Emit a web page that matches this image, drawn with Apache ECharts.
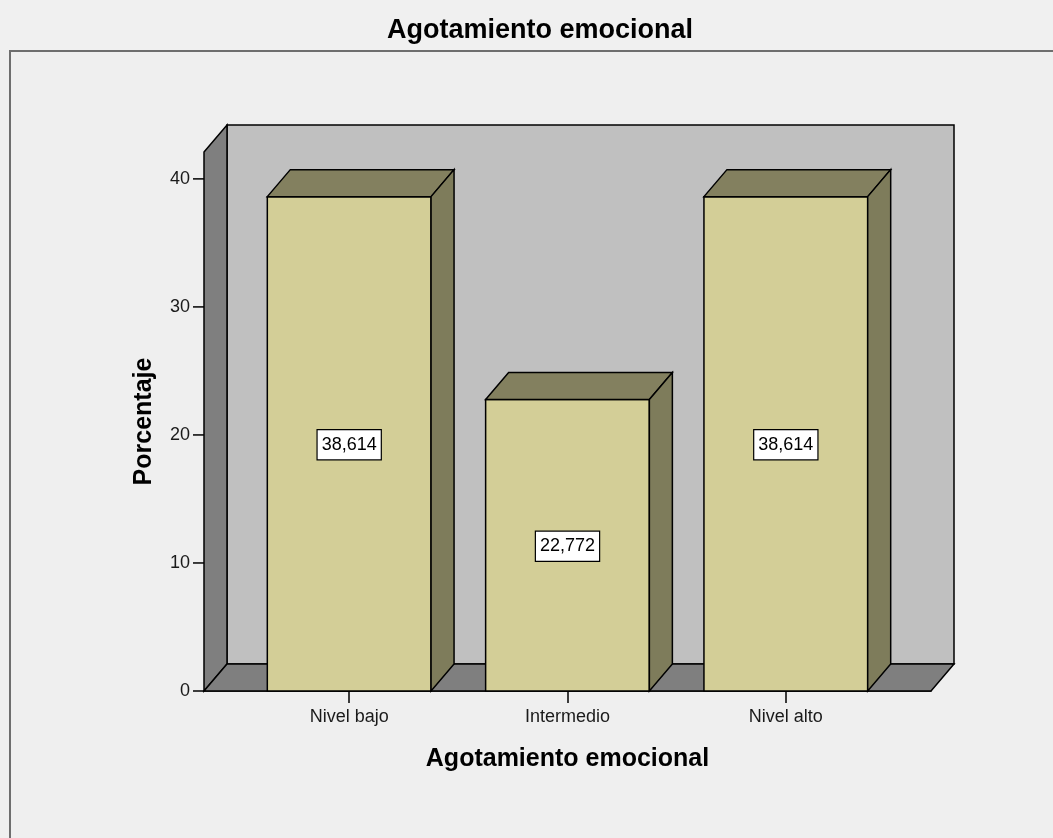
<!DOCTYPE html>
<html>
<head>
<meta charset="utf-8">
<script src="https://cdn.jsdelivr.net/npm/echarts@6/dist/echarts.min.js"></script>
<style>
  html, body { margin: 0; padding: 0; background: #f0f0f0; }
  #chart { width: 1053px; height: 838px; }
</style>
</head>
<body>
<div id="chart"></div>
<script>
// Agotamiento emocional: porcentaje por nivel
const categories = ['Nivel bajo', 'Intermedio', 'Nivel alto'];
const percentages = [38.614, 22.772, 38.614];
const yTickValues = [0, 10, 20, 30, 40];
const xTickValues = [0, 1, 2];

// axis extents (category positions are 0, 1, 2 on a value axis)
const X_MIN = -0.665, X_MAX = 2.665;
const Y_MIN = 0, Y_MAX = 42.1;
const BAR_HALF = 0.375;            // half bar width in category units
const DEPTH_X = 23, DEPTH_Y = -27; // oblique 3D depth offset (px)
const Y_TICK_LEN = 11;
const FONT = '"Liberation Sans", Arial, Helvetica, sans-serif';

const fmt = v => v.toFixed(3).replace('.', ',');

function poly(points, fill) {
  return {
    type: 'polygon',
    shape: { points: points },
    style: { fill: fill, stroke: '#000', lineWidth: 1.5, lineJoin: 'miter' }
  };
}

// back wall, left wall, floor of the 3D box and the value-axis tick marks
function renderBox(params, api) {
  const fl = api.coord([X_MIN, Y_MIN]);
  const fr = api.coord([X_MAX, Y_MIN]);
  const tl = api.coord([X_MIN, Y_MAX]);
  const back = p => [p[0] + DEPTH_X, p[1] + DEPTH_Y];
  const bl = back(fl), br = back(fr), btl = back(tl);
  const btr = [br[0], btl[1]];
  const ticks = yTickValues.map(t => {
    const p = api.coord([X_MIN, t]);
    return {
      type: 'line',
      shape: { x1: p[0] - Y_TICK_LEN, y1: p[1], x2: p[0], y2: p[1] },
      style: { stroke: '#000', lineWidth: 1.5 }
    };
  });
  return {
    type: 'group',
    children: [
      poly([btl, btr, br, bl], '#c0c0c0'),
      poly([tl, btl, bl, fl], '#7f7f7f'),
      poly([fl, bl, br, fr], '#7f7f7f')
    ].concat(ticks)
  };
}

// one 3D bar: front, top and right faces plus its value box
function renderBar(params, api) {
  const i = api.value(0), v = api.value(1);
  const p0 = api.coord([i - BAR_HALF, 0]);
  const p1 = api.coord([i + BAR_HALF, v]);
  const x0 = p0[0], x1 = p1[0], yb = p0[1], yt = p1[1];
  const mid = api.coord([i, v / 2]);
  return {
    type: 'group',
    children: [
      poly([[x0, yt], [x1, yt], [x1, yb], [x0, yb]], '#d3ce97'),
      poly([[x0, yt], [x0 + DEPTH_X, yt + DEPTH_Y], [x1 + DEPTH_X, yt + DEPTH_Y], [x1, yt]], '#83805f'),
      poly([[x1, yt], [x1 + DEPTH_X, yt + DEPTH_Y], [x1 + DEPTH_X, yb + DEPTH_Y], [x1, yb]], '#7e7c5b'),
      {
        type: 'text',
        x: mid[0], y: mid[1] + 1,
        style: {
          text: fmt(v),
          font: '18px ' + FONT,
          fill: '#000',
          align: 'center',
          verticalAlign: 'middle',
          backgroundColor: '#fff',
          borderColor: '#000',
          borderWidth: 1.2,
          padding: [6, 4, 5, 4]
        }
      }
    ]
  };
}

const chart = echarts.init(document.getElementById('chart'), null, { renderer: 'canvas' });

chart.setOption({
  backgroundColor: '#f0f0f0',
  animation: false,
  graphic: [
    {
      type: 'rect', left: 9, top: 50, z: 0,
      shape: { width: 1100, height: 900 },
      style: { fill: '#efefef', stroke: '#6e6e6e', lineWidth: 2 }
    },
    {
      type: 'text', x: 540, y: 31, z: 5,
      style: {
        text: 'Agotamiento emocional',
        font: 'bold 27px ' + FONT,
        fill: '#000', align: 'center', verticalAlign: 'middle'
      }
    }
  ],
  grid: { left: 204, right: 122, top: 152, bottom: 147, containLabel: false },
  xAxis: {
    type: 'value',
    min: X_MIN, max: X_MAX,
    splitLine: { show: false },
    axisLine: { show: true, lineStyle: { color: '#000', width: 1.5 } },
    axisTick: { show: true, customValues: xTickValues, length: 12, lineStyle: { color: '#000', width: 1.5 } },
    axisLabel: {
      customValues: xTickValues,
      formatter: v => categories[Math.round(v)],
      fontSize: 18, fontFamily: FONT, color: '#1a1a1a', margin: 17
    },
    name: 'Agotamiento emocional',
    nameLocation: 'middle',
    nameGap: 56,
    nameTextStyle: { fontSize: 25, fontWeight: 'bold', fontFamily: FONT, color: '#000' }
  },
  yAxis: {
    type: 'value',
    min: Y_MIN, max: Y_MAX,
    splitLine: { show: false },
    axisLine: { show: true, lineStyle: { color: '#000', width: 1.5 } },
    axisTick: { show: true, customValues: yTickValues, length: Y_TICK_LEN, lineStyle: { color: '#000', width: 1.5 } },
    axisLabel: {
      customValues: yTickValues,
      fontSize: 18, fontFamily: FONT, color: '#1a1a1a', margin: 14
    },
    name: 'Porcentaje',
    nameLocation: 'middle',
    nameRotate: 90,
    nameGap: 47,
    nameTextStyle: { fontSize: 25, fontWeight: 'bold', fontFamily: FONT, color: '#000' }
  },
  series: [
    {
      type: 'custom',
      clip: false,
      z: 1,
      silent: true,
      renderItem: renderBox,
      data: [[0, 0]],
      encode: { x: 0, y: 1 }
    },
    {
      type: 'custom',
      clip: false,
      z: 3,
      renderItem: renderBar,
      data: categories.map((c, i) => [i, percentages[i]]),
      encode: { x: 0, y: 1 }
    }
  ]
});
</script>
</body>
</html>
